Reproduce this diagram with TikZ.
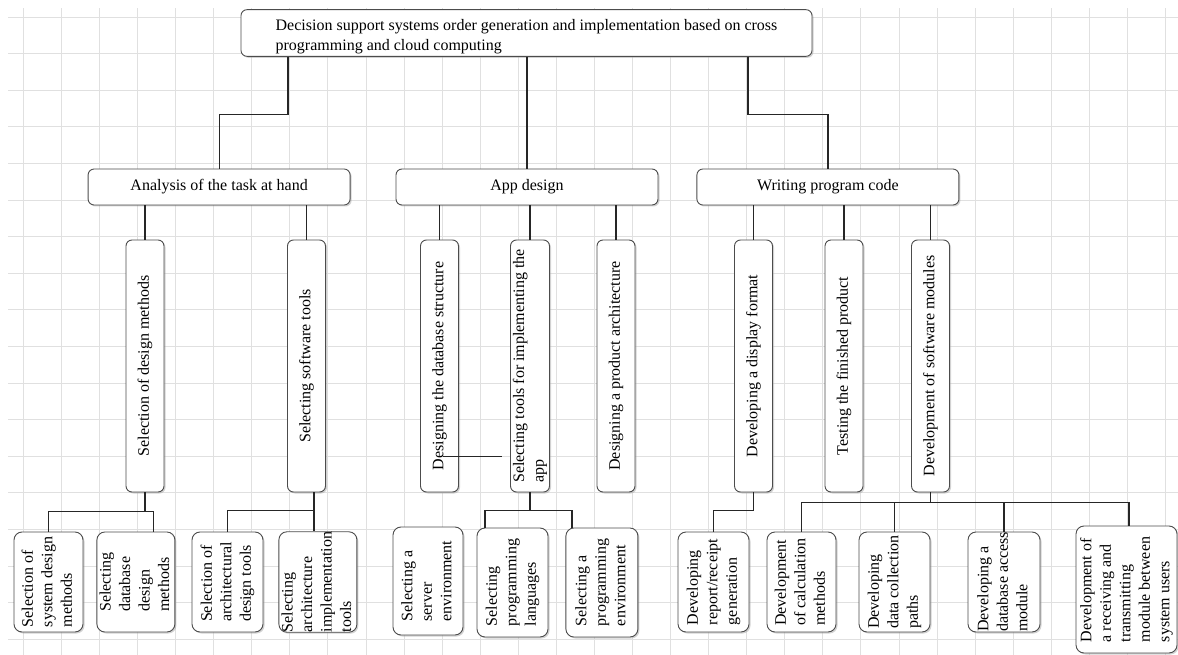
\documentclass[tikz,border=0pt]{standalone}
\usepackage{fontspec}
\setmainfont{Liberation Serif}
\usepackage{graphicx}
\usetikzlibrary{positioning,shadows}
\tikzstyle{box}=[draw=black!70,fill=white,line width=0.9pt,rounded corners=6pt,drop shadow={shadow xshift=1.5pt,shadow yshift=-1.5pt,fill=black!35}]
\tikzstyle{head}=[box,minimum width=571pt,minimum height=36pt,font=\fontsize{16}{20}\selectfont]
\tikzstyle{phase}=[box,minimum width=262pt,minimum height=36pt]
\tikzstyle{task}=[box,minimum width=38pt,minimum height=252pt,inner sep=0pt]
\tikzstyle{subtask}=[box,rounded corners=8pt,minimum width=71pt,minimum height=100pt,inner sep=0pt]
\tikzstyle{link}=[draw=black!85,line width=1.2pt]
\tikzstyle{gridline}=[draw=black!12,line width=0.8pt]
\newcommand{\vtext}[1]{\rotatebox{90}{\begin{tabular}{@{}l@{}}#1\end{tabular}}}
\newcommand{\htext}[1]{\raisebox{-4pt}[\height][\depth]{\begin{tabular}{@{}l@{}}#1\end{tabular}}}

\begin{document}
\begin{tikzpicture}[x=1pt,y=-1pt,font=\fontsize{16}{19.5}\selectfont]
  \useasboundingbox (0,0) rectangle (1178,655);
  \foreach \gx in {0,...,30}
    \draw[gridline] ({23.3+38.07*\gx},8) -- ({23.3+38.07*\gx},655);
  \foreach \gy in {0,...,17}
    \draw[gridline] (8,{17+36.6*\gy}) -- (1178,{17+36.6*\gy});

  \node[head]     (top) at (526.5,33) {\htext{Decision support systems order generation and implementation based on cross\\programming and cloud computing}};
  \node[phase]    (app) at (527,187)  {App design};
  \node[phase]    (ana) [left=45pt of app]  {Analysis of the task at hand};
  \node[phase]    (wpc) [right=38pt of app] {Writing program code};

  \node[task]     (sdm) at (145,366)   {\vtext{Selection of design methods}};
  \node[task]     (sst) at (306.5,366) {\vtext{Selecting software tools}};
  \node[task]     (ddb) at (439.5,366) {\vtext{Designing the database structure}};
  \node[task]     (stl) at (530,366)   {\vtext{Selecting tools for implementing the\\app}};
  \node[task]     (dpa) at (616,366)   {\vtext{Designing a product architecture}};
  \node[task]     (ddf) at (753.5,366) {\vtext{Developing a display format}};
  \node[task]     (tfp) at (844,366)   {\vtext{Testing the finished product}};
  \node[task]     (dsm) at (930.5,366) {\vtext{Development of software modules}};

  \node[subtask,minimum width=69pt] (ssd) at (48.5,582) {\vtext{Selection of\\system design\\methods}};
  \node[subtask]  (sdd) [right=13pt of ssd] {\vtext{Selecting\\database\\design\\methods}};
  \node[subtask]  (sat) at (227.5,582) {\vtext{Selection of\\architectural\\design tools}};
  \node[subtask,minimum width=72pt] (sai) [right=15pt of sat] {\vtext{Selecting\\architecture\\implementation\\tools}};
  \node[subtask,minimum width=70pt,minimum height=108pt] (sse) at (428,581) {\vtext{Selecting a\\server\\environment}};
  \node[subtask,minimum height=109pt] (spl) at (512.5,582.5) {\vtext{Selecting\\programming\\languages}};
  \node[subtask,minimum width=72pt,minimum height=109pt] (spe) [right=17pt of spl] {\vtext{Selecting a\\programming\\environment}};
  \node[subtask]  (drg) at (713.5,582) {\vtext{Developing\\report/receipt\\generation}};
  \node[subtask,minimum width=69pt] (dcm) at (801.5,582) {\vtext{Development\\of calculation\\methods}};
  \node[subtask]  (dcp) at (894.5,582) {\vtext{Developing\\data collection\\paths}};
  \node[subtask,minimum width=72pt] (dam) at (1004,582) {\vtext{Developing a\\database access\\module}};
  \node[subtask,minimum width=101pt,minimum height=127pt] (drt) at (1126.5,589.5) {\vtext{Development of\\a receiving and\\transmitting\\module between\\system users}};
  \coordinate (stray) at (502,456);

  \draw[link] ([xshift=-238.5pt]top.south) -- ++(0,-58pt) -| (ana.north);
  \draw[link] (top.south -| app.north) -- (app.north);
  \draw[link] ([xshift=221.5pt]top.south) -- ++(0,-58pt) -| (wpc.north);

  \draw[link] (ana.south -| sdm.north) -- (sdm.north);
  \draw[link] (ana.south -| sst.north) -- (sst.north);
  \draw[link] (app.south -| ddb.north) -- (ddb.north);
  \draw[link] (app.south -| stl.north) -- (stl.north);
  \draw[link] (app.south -| dpa.north) -- (dpa.north);
  \draw[link] (wpc.south -| ddf.north) -- (ddf.north);
  \draw[link] (wpc.south -| tfp.north) -- (tfp.north);
  \draw[link] (wpc.south -| dsm.north) -- (dsm.north);

  \draw[link] (sdm.south) -- ++(0,-19pt) -| (ssd.north);
  \draw[link] (sdm.south) -- ++(0,-19pt) -| ([xshift=17.5pt]sdd.north);
  \draw[link] ([xshift=7.5pt]sst.south) -- ([xshift=7.5pt]sst.south |- sai.north);
  \draw[link] ([xshift=7.5pt]sst.south) -- ++(0,-18pt) -| (sat.north);
  \draw[link] (stl.south) -- ++(0,-18pt) -| ([xshift=-27.5pt]spl.north);
  \draw[link] (stl.south) -- ++(0,-18pt) -| ([xshift=-30pt]spe.north);
  \draw[link] (ddf.south) -- ++(0,-18pt) -| (drg.north);
  \draw[link] (dsm.south) -- ++(0,-10pt) -| (dcm.north);
  \draw[link] (dsm.south) -- ++(0,-10pt) -| (dcp.north);
  \draw[link] (dsm.south) -- ++(0,-10pt) -| (dam.north);
  \draw[link] (dsm.south) -- ++(0,-10pt) -| ([xshift=2.5pt]drt.north);
  \draw[link,line width=0.8pt] ([xshift=3.5pt]ddb.center |- stray) -- (stray);
\end{tikzpicture}
\end{document}
